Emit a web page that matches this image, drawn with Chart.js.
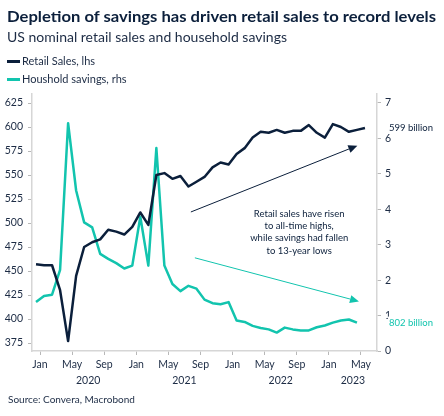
<!DOCTYPE html>
<html>
<head>
<meta charset="utf-8">
<script src="https://cdn.jsdelivr.net/npm/chart.js@4.4.0/dist/chart.umd.min.js"></script>
<style>
    html, body { margin: 0; padding: 0; background: #fff; }
    body { width: 444px; height: 416px; position: relative; overflow: hidden; font-family: Lato, "Open Sans", sans-serif; color: #0b1f3b; }
    #chart { position: absolute; left: 0; top: 0; }
    .title { position: absolute; left: 7px; top: 6px; font-weight: 700; font-size: 16px; white-space: nowrap; transform-origin: left top; }
    .subtitle { position: absolute; left: 7px; top: 29px; font-size: 13px; white-space: nowrap; color: #1c2b44; transform-origin: left top; }
    .legend { position: absolute; left: 7px; font-size: 11px; white-space: nowrap; color: #1c2b44; }
    .legend .sw { display: inline-block; width: 13px; height: 3px; vertical-align: middle; margin-right: 2px; position: relative; top: -1px; }
    .source { position: absolute; left: 8px; top: 393px; font-size: 10px; color: #1c2b44; }
</style>
</head>
<body>
<canvas id="chart" width="444" height="416"></canvas>
<div class="title" id="title">Depletion of savings has driven retail sales to record levels</div>
<div class="subtitle" id="subtitle">US nominal retail sales and household savings</div>
<div class="legend" style="top:54px"><span class="sw" style="background:#0b1f3b"></span>Retail Sales, lhs</div>
<div class="legend" style="top:72px"><span class="sw" style="background:#12c4ae"></span>Houshold savings, rhs</div>
<div class="source">Source: Convera, Macrobond</div>

<script>
const NAVY = '#0b1f3b';
const TEAL = '#12c4ae';
const TEXT = '#1c2b44';

// monthly observations, Dec 2019 - May 2023
const months = [
    '2019-12',
    '2020-01', '2020-02', '2020-03', '2020-04', '2020-05', '2020-06',
    '2020-07', '2020-08', '2020-09', '2020-10', '2020-11', '2020-12',
    '2021-01', '2021-02', '2021-03', '2021-04', '2021-05', '2021-06',
    '2021-07', '2021-08', '2021-09', '2021-10', '2021-11', '2021-12',
    '2022-01', '2022-02', '2022-03', '2022-04', '2022-05', '2022-06',
    '2022-07', '2022-08', '2022-09', '2022-10', '2022-11', '2022-12',
    '2023-01', '2023-02', '2023-03', '2023-04', '2023-05'
];

// US$ billion, lhs
const retailSales = [
    457,
    456, 456, 430, 377, 445, 475,
    480, 483, 493, 491, 488, 496,
    511, 498, 550, 552, 546, 549,
    538, 543, 548, 558, 563, 561,
    572, 578, 589, 595, 594, 597,
    594, 596, 596, 602, 594, 589,
    603, 600, 595, 597, 599
];

// US$ trillion, rhs
const householdSavings = [
    1.38,
    1.55, 1.59, 2.29, 6.43, 4.53, 3.63,
    3.49, 2.74, 2.60, 2.48, 2.33, 2.41,
    3.79, 2.41, 5.73, 2.41, 1.89, 1.69,
    1.84, 1.76, 1.45, 1.35, 1.32, 1.38,
    0.86, 0.82, 0.71, 0.65, 0.61, 0.52,
    0.66, 0.61, 0.58, 0.58, 0.67, 0.72,
    0.80, 0.86, 0.89, 0.802, null
];

const tickLabels = ['Jan', 'May', 'Sep', 'Jan', 'May', 'Sep', 'Jan', 'May', 'Sep', 'Jan', 'May'];
const yearLabels = ['2020', '2021', '2022', '2023'];

const noteLines = ['Retail sales have risen', 'to all-time highs,', 'while savings had fallen', 'to 13-year lows'];

// months counted from 1 Jan 2020, observation plotted mid-month
function monthPos(m) {
    const [y, mo] = m.split('-').map(Number);
    return (y - 2020) * 12 + (mo - 1) + 0.5;
}

const X_MIN = -1, X_MAX = 42;
const tickFont = { family: 'Lato', size: 10.5 };

const annotations = {
    id: 'annotations',
    afterDatasetsDraw(chart) {
        const { ctx, scales } = chart;
        const x = scales.x, y = scales.y, y2 = scales.y2;

        function arrow(x0, y0, x1, y1, color) {
            const a = Math.atan2(y1 - y0, x1 - x0);
            const hl = 9, hw = 4;
            ctx.save();
            ctx.strokeStyle = color;
            ctx.fillStyle = color;
            ctx.lineWidth = 1;
            ctx.beginPath();
            ctx.moveTo(x0, y0);
            ctx.lineTo(x1 - hl * Math.cos(a), y1 - hl * Math.sin(a));
            ctx.stroke();
            ctx.beginPath();
            ctx.moveTo(x1, y1);
            ctx.lineTo(x1 - hl * Math.cos(a) + hw * Math.sin(a), y1 - hl * Math.sin(a) - hw * Math.cos(a));
            ctx.lineTo(x1 - hl * Math.cos(a) - hw * Math.sin(a), y1 - hl * Math.sin(a) + hw * Math.cos(a));
            ctx.closePath();
            ctx.fill();
            ctx.restore();
        }

        arrow(x.getPixelForValue(18.8), y.getPixelForValue(511.5),
              x.getPixelForValue(39.55), y.getPixelForValue(580.6), NAVY);
        arrow(x.getPixelForValue(19.3), y2.getPixelForValue(2.63),
              x.getPixelForValue(39.75), y2.getPixelForValue(1.40), TEAL);

        // note text
        ctx.save();
        ctx.font = '9.5px Lato';
        ctx.fillStyle = NAVY;
        ctx.textAlign = 'center';
        ctx.textBaseline = 'middle';
        const cx = x.getPixelForValue(32.3);
        const cy = y.getPixelForValue(490.5);
        noteLines.forEach((t, i) => ctx.fillText(t, cx, cy + (i - 1.5) * 12.3));
        ctx.restore();

        // end-of-series value labels
        function endLabel(data, scale, text, color) {
            let last = data.length - 1;
            while (data[last] == null) last--;
            const py = scale.getPixelForValue(data[last]);
            const px = chart.chartArea.right + 12;
            ctx.save();
            ctx.font = '9.5px Lato';
            const w = ctx.measureText(text).width;
            ctx.fillStyle = '#fff';
            ctx.fillRect(px - 1, py - 6, w + 2, 12);
            ctx.fillStyle = color;
            ctx.textBaseline = 'middle';
            ctx.fillText(text, px, py);
            ctx.restore();
        }
        endLabel(retailSales, y, '599 billion', NAVY);
        endLabel(householdSavings, y2, '802 billion', TEAL);
    }
};

new Chart(document.getElementById('chart'), {
    type: 'line',
    data: {
        datasets: [
            {
                label: 'Retail Sales, lhs',
                data: months.map((m, i) => ({ x: monthPos(m), y: retailSales[i] })),
                borderColor: NAVY,
                yAxisID: 'y',
                order: 1
            },
            {
                label: 'Houshold savings, rhs',
                data: months.map((m, i) => ({ x: monthPos(m), y: householdSavings[i] })),
                borderColor: TEAL,
                yAxisID: 'y2',
                order: 2
            }
        ]
    },
    options: {
        responsive: false,
        animation: false,
        layout: { padding: { top: 94, left: 0, right: 0, bottom: 0 } },
        elements: {
            point: { radius: 0 },
            line: { borderWidth: 2.5, tension: 0, borderJoinStyle: 'round' }
        },
        plugins: { legend: { display: false }, tooltip: { enabled: false } },
        scales: {
            x: {
                type: 'linear',
                position: 'bottom',
                weight: 0,
                min: X_MIN,
                max: X_MAX,
                afterBuildTicks: s => { s.ticks = tickLabels.map((l, i) => ({ value: i * 4 })); },
                afterFit: s => { s.height = 20; },
                grid: { drawOnChartArea: false, drawTicks: true, tickLength: 4, color: '#b8b8b8' },
                border: { color: '#d6d6d6', width: 1.5 },
                ticks: {
                    padding: 3,
                    maxRotation: 0,
                    autoSkip: false,
                    color: TEXT,
                    font: tickFont,
                    callback: (v, i) => tickLabels[i]
                }
            },
            xYear: {
                type: 'linear',
                position: 'bottom',
                weight: 1,
                min: X_MIN,
                max: X_MAX,
                afterBuildTicks: s => {
                    s.ticks = yearLabels.map((l, i) => {
                        const a = Math.max(i * 12, s.min), b = Math.min(i * 12 + 12, s.max);
                        return { value: (a + b) / 2 };
                    });
                },
                afterFit: s => { s.height = 45; },
                grid: { display: false, drawTicks: false },
                border: { display: false },
                ticks: {
                    padding: 3,
                    maxRotation: 0,
                    autoSkip: false,
                    color: TEXT,
                    font: tickFont,
                    callback: (v, i) => yearLabels[i]
                }
            },
            y: {
                position: 'left',
                min: 366.67,
                max: 634.4,
                afterFit: s => { s.width = 32; },
                grid: { drawOnChartArea: false, tickLength: 4, color: '#b8b8b8' },
                border: { color: '#d6d6d6', width: 1.5 },
                ticks: { stepSize: 25, includeBounds: false, padding: 5, color: TEXT, font: tickFont }
            },
            y2: {
                position: 'right',
                min: 0,
                max: 7.254,
                afterFit: s => { s.width = 67; },
                grid: { drawOnChartArea: false, tickLength: 4, color: '#b8b8b8' },
                border: { color: '#d6d6d6', width: 1.5 },
                ticks: { stepSize: 1, includeBounds: false, padding: 4, color: TEXT, font: tickFont }
            }
        }
    },
    plugins: [annotations]
});

// squeeze heading lines to the widths in the original
function fitWidth(id, target) {
    const el = document.getElementById(id);
    const w = el.getBoundingClientRect().width;
    el.style.transform = `scaleX(${target / w})`;
}
fitWidth('title', 429);
fitWidth('subtitle', 280);
</script>
</body>
</html>
